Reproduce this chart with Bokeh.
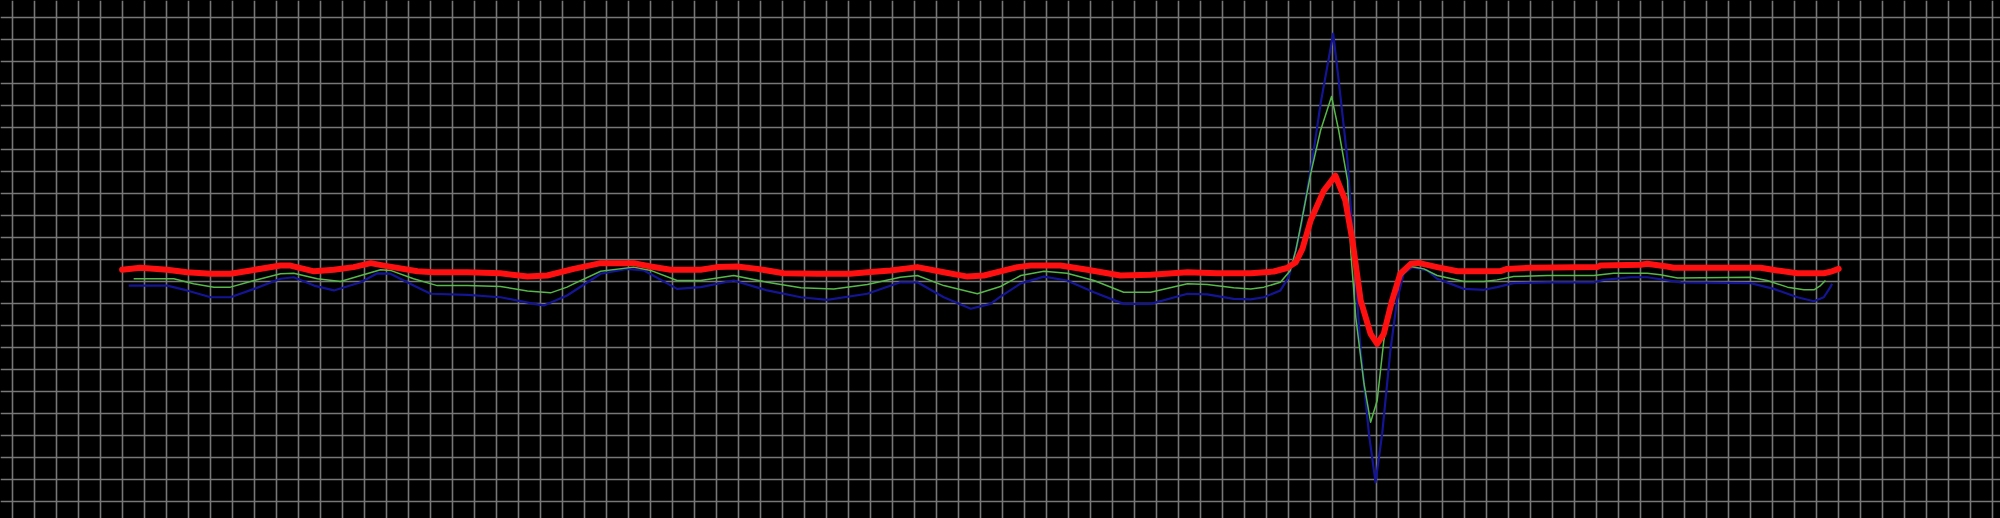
from bokeh.plotting import figure
from bokeh.models import Range1d, SingleIntervalTicker, GlobalInlineStyleSheet
from bokeh.embed import file_html
from bokeh.resources import INLINE

# time in ms, amplitude in mV (ECG paper: 1 small box = 40 ms x 0.1 mV)
red_t = [200, 233, 282, 318, 361, 397, 434, 488, 506, 549, 585, 621, 652, 676, 737, 767, 828, 888,
         937, 973, 1021, 1070, 1130, 1161, 1197, 1252, 1282, 1318, 1355, 1403, 1464, 1524, 1555, 1597,
         1646, 1694, 1737, 1767, 1828, 1852, 1906, 1955, 2015, 2070, 2137, 2191, 2252, 2294, 2318,
         2334, 2346, 2361, 2385, 2406, 2424, 2437, 2452, 2470, 2482, 2494, 2509, 2524, 2543, 2557,
         2591, 2628, 2670, 2706, 2718, 2761, 2882, 2888, 2961, 2973, 3009, 3021, 3179, 3209, 3246,
         3294, 3309, 3321]
red_v = [0.052, 0.061, 0.052, 0.041, 0.034, 0.034, 0.049, 0.071, 0.071, 0.045, 0.052, 0.064, 0.082,
         0.071, 0.045, 0.041, 0.041, 0.036, 0.021, 0.026, 0.056, 0.082, 0.082, 0.067, 0.052, 0.052,
         0.064, 0.067, 0.056, 0.036, 0.034, 0.034, 0.041, 0.049, 0.064, 0.041, 0.021, 0.026, 0.064,
         0.071, 0.071, 0.052, 0.026, 0.029, 0.041, 0.036, 0.036, 0.044, 0.060, 0.086, 0.147, 0.276,
         0.412, 0.480, 0.367, 0.185, -0.088, -0.239, -0.285, -0.239, -0.088, 0.034, 0.079, 0.083,
         0.064, 0.045, 0.045, 0.046, 0.056, 0.061, 0.064, 0.071, 0.075, 0.079, 0.067, 0.061, 0.061,
         0.049, 0.036, 0.036, 0.045, 0.056]

green_t = [221, 294, 330, 367, 397, 440, 488, 512, 555, 597, 634, 670, 688, 730, 773, 828, 888, 937,
           979, 1009, 1021, 1070, 1130, 1161, 1209, 1252, 1312, 1373, 1434, 1494, 1555, 1615, 1646,
           1694, 1755, 1797, 1834, 1876, 1918, 1967, 2021, 2070, 2137, 2173, 2221, 2252, 2276, 2306,
           2324, 2334, 2343, 2361, 2379, 2399, 2412, 2428, 2434, 2443, 2458, 2470, 2482, 2494, 2509,
           2524, 2543, 2567, 2591, 2640, 2676, 2700, 2730, 2791, 2876, 2912, 2973, 2997, 3028, 3161,
           3191, 3228, 3258, 3276, 3288, 3297]
green_v = [0.011, 0.011, -0.012, -0.027, -0.027, 0.003, 0.034, 0.036, 0.011, -0.001, 0.026, 0.052,
           0.049, 0.011, -0.020, -0.020, -0.024, -0.045, -0.053, -0.027, -0.012, 0.045, 0.064, 0.049,
           0.003, 0.003, 0.026, -0.005, -0.030, -0.035, -0.015, 0.018, 0.026, -0.020, -0.057, -0.024,
           0.026, 0.045, 0.036, 0.003, -0.050, -0.050, -0.012, -0.015, -0.030, -0.035, -0.027, -0.005,
           0.049, 0.140, 0.253, 0.488, 0.685, 0.840, 0.685, 0.458, 0.132, -0.164, -0.466, -0.641,
           -0.542, -0.270, -0.088, 0.018, 0.067, 0.056, 0.026, -0.001, -0.001, 0.006, 0.021, 0.026,
           0.026, 0.036, 0.036, 0.029, 0.015, 0.018, 0.003, -0.027, -0.039, -0.039, -0.020, 0.003]

blue_t = [212, 282, 318, 361, 397, 440, 488, 512, 549, 585, 634, 664, 688, 730, 761, 828, 888, 949,
          967, 1009, 1070, 1118, 1149, 1209, 1252, 1312, 1373, 1434, 1482, 1555, 1615, 1646, 1694,
          1743, 1779, 1797, 1834, 1876, 1918, 1967, 2021, 2070, 2137, 2173, 2221, 2252, 2276, 2306,
          2321, 2334, 2343, 2364, 2379, 2402, 2412, 2428, 2443, 2452, 2467, 2479, 2491, 2506, 2518,
          2530, 2546, 2573, 2591, 2640, 2676, 2700, 2730, 2791, 2876, 2894, 2943, 2973, 3034, 3161,
          3203, 3246, 3276, 3294, 3306, 3309]
blue_v = [-0.020, -0.020, -0.042, -0.073, -0.073, -0.035, 0.011, 0.018, -0.020, -0.042, -0.005, 0.036,
          0.034, -0.020, -0.057, -0.062, -0.073, -0.103, -0.110, -0.065, 0.034, 0.056, 0.049, -0.035,
          -0.027, 0.003, -0.042, -0.073, -0.085, -0.057, -0.005, -0.005, -0.073, -0.125, -0.103,
          -0.070, -0.010, 0.021, 0.003, -0.050, -0.103, -0.103, -0.057, -0.060, -0.080, -0.083,
          -0.073, -0.042, 0.018, 0.140, 0.245, 0.549, 0.806, 1.125, 0.912, 0.549, 0.003, -0.315,
          -0.694, -0.914, -0.694, -0.315, -0.088, 0.034, 0.064, 0.049, 0.011, -0.035, -0.039, -0.027,
          -0.009, -0.005, -0.005, 0.006, 0.018, 0.018, -0.005, -0.009, -0.035, -0.073, -0.091, -0.073,
          -0.027, -0.012]

p = figure(width=2000, height=518,
           x_range=Range1d(-21.09, 3615.27), y_range=Range1d(-1.07864, 1.27591),
           output_backend="svg", toolbar_location=None, min_border=0,
           background_fill_color="black", border_fill_color="black",
           outline_line_color=None)
p.axis.visible = False
p.xgrid.ticker = SingleIntervalTicker(interval=40, num_minor_ticks=0)
p.ygrid.ticker = SingleIntervalTicker(interval=0.1, num_minor_ticks=0)
p.grid.grid_line_color = "#777777"
p.grid.grid_line_width = 1.6
p.grid.grid_line_alpha = 1.0

p.line(blue_t, blue_v, line_color="#141496", line_width=2.2, line_join="round")
p.line(green_t, green_v, line_color="#55b848", line_width=1.5, line_join="round")
p.line(red_t, red_v, line_color="#ff1010", line_width=6, line_join="round", line_cap="round")

p.stylesheets = [GlobalInlineStyleSheet(css="body { background-color: #000; }")]

open("out.html", "w").write(file_html(p, INLINE))
